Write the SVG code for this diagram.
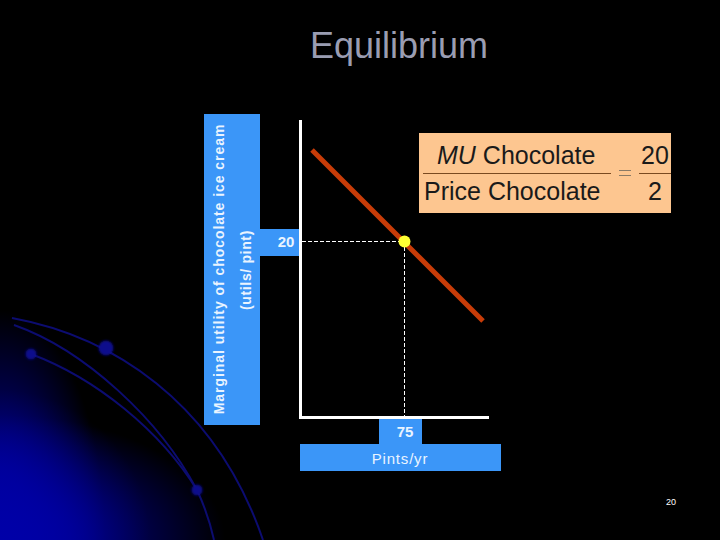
<svg xmlns="http://www.w3.org/2000/svg" width="720" height="540" viewBox="0 0 720 540">
<style>
.lbl{font-family:"Liberation Sans",Arial,sans-serif;fill:#eaf4ff;font-size:14px;font-weight:bold}
.eq{font-family:"Liberation Sans",Arial,sans-serif;fill:#1a1a1a;font-size:25px}
.box{fill:#3b96f8}
.arc{fill:none;stroke:#0c0c70;stroke-width:2}
.dash{stroke:#fff;stroke-width:1;stroke-dasharray:4 2;fill:none}
</style>
<defs>
<radialGradient id="g1" gradientUnits="userSpaceOnUse" cx="0" cy="0" r="1" gradientTransform="translate(0 540) scale(105 230)">
<stop offset="0" stop-color="#0000a8"/><stop offset="0.3" stop-color="#0000a0" stop-opacity="0.85"/><stop offset="1" stop-color="#0000a0" stop-opacity="0"/>
</radialGradient>
<radialGradient id="g2" gradientUnits="userSpaceOnUse" cx="0" cy="0" r="1" gradientTransform="translate(0 540) scale(225 125)">
<stop offset="0" stop-color="#0000a8"/><stop offset="0.3" stop-color="#0000a0" stop-opacity="0.85"/><stop offset="1" stop-color="#0000a0" stop-opacity="0"/>
</radialGradient>
<radialGradient id="g3" gradientUnits="userSpaceOnUse" cx="0" cy="540" r="150">
<stop offset="0" stop-color="#0000a8" stop-opacity="0.9"/><stop offset="1" stop-color="#0000a0" stop-opacity="0"/>
</radialGradient>
<filter id="soft" x="-50%" y="-50%" width="200%" height="200%"><feGaussianBlur stdDeviation="0.8"/></filter>
</defs>
<g id="background">
<rect width="720" height="540" fill="#000"/>
<rect x="0" y="300" width="120" height="240" fill="url(#g1)"/>
<rect x="0" y="400" width="230" height="140" fill="url(#g2)"/>
<rect x="0" y="380" width="160" height="160" fill="url(#g3)"/>
<path class="arc" d="M12 318C110 336 215 400 263 540"/>
<path class="arc" d="M14 325C85 350 160 420 197 490C204 505 210 522 214 540"/>
<path class="arc" d="M31 354C95 378 160 430 197 490"/>
<circle cx="31" cy="354" r="5.500" fill="#0a0a8c" filter="url(#soft)"/>
<circle cx="106" cy="348" r="7.500" fill="#0a0a8c" filter="url(#soft)"/>
<circle cx="197" cy="490" r="5.500" fill="#0a0a8c" filter="url(#soft)"/>
</g>
<text id="title" x="399" y="58" text-anchor="middle" font-family="'Liberation Sans',Arial,sans-serif" font-size="36" fill="#9a9db2">Equilibrium</text>
<g id="y-label">
<rect class="box" x="204" y="114" width="56" height="311"/>
<text class="lbl" transform="translate(224 269) rotate(-90)" text-anchor="middle" letter-spacing="0.95">Marginal utility of chocolate ice cream</text>
<text class="lbl" transform="translate(251 270) rotate(-90)" text-anchor="middle" letter-spacing="0.65">(utils/ pint)</text>
</g>
<g id="tick-20">
<rect class="box" x="260" y="229" width="42" height="27"/>
<text class="lbl" x="286" y="247" text-anchor="middle" style="font-size:15px">20</text>
</g>
<g id="tick-75">
<rect class="box" x="379" y="418" width="43" height="26"/>
<text class="lbl" x="405" y="437" text-anchor="middle" style="font-size:15px">75</text>
</g>
<g id="x-label">
<rect class="box" x="300" y="444" width="201" height="27"/>
<text class="lbl" x="400" y="464" text-anchor="middle" style="font-size:15px;font-weight:normal" letter-spacing="0.8">Pints/yr</text>
</g>
<g id="connectors">
<path d="M300.500 120V417.500H489" fill="none" stroke="#fff" stroke-width="3"/>
<path class="dash" d="M302 241.500H404.500V416"/>
<path d="M312 150L483 321" stroke="#c83c08" stroke-width="5" fill="none"/>
</g>
<g id="equilibrium-point">
<circle cx="404.500" cy="241.500" r="6" fill="#ffff33"/>
</g>
<g id="equation">
<rect x="419" y="133" width="252" height="80" fill="#fdc690"/>
<text class="eq" x="437" y="164"><tspan font-style="italic">MU</tspan> Chocolate</text>
<text class="eq" x="424" y="200">Price Chocolate</text>
<text class="eq" x="655" y="164" text-anchor="middle">20</text>
<text class="eq" x="655" y="200" text-anchor="middle">2</text>
<path d="M423 173.500H611M639 173.500H671" stroke="#7a4a20" stroke-width="1"/>
<path d="M619 170.500H631M619 175.500H631" stroke="#8a7a66" stroke-width="1"/>
</g>
<text id="page-number" x="671" y="505" text-anchor="middle" font-family="'Liberation Sans',Arial,sans-serif" font-size="9" fill="#fff">20</text>
</svg>
